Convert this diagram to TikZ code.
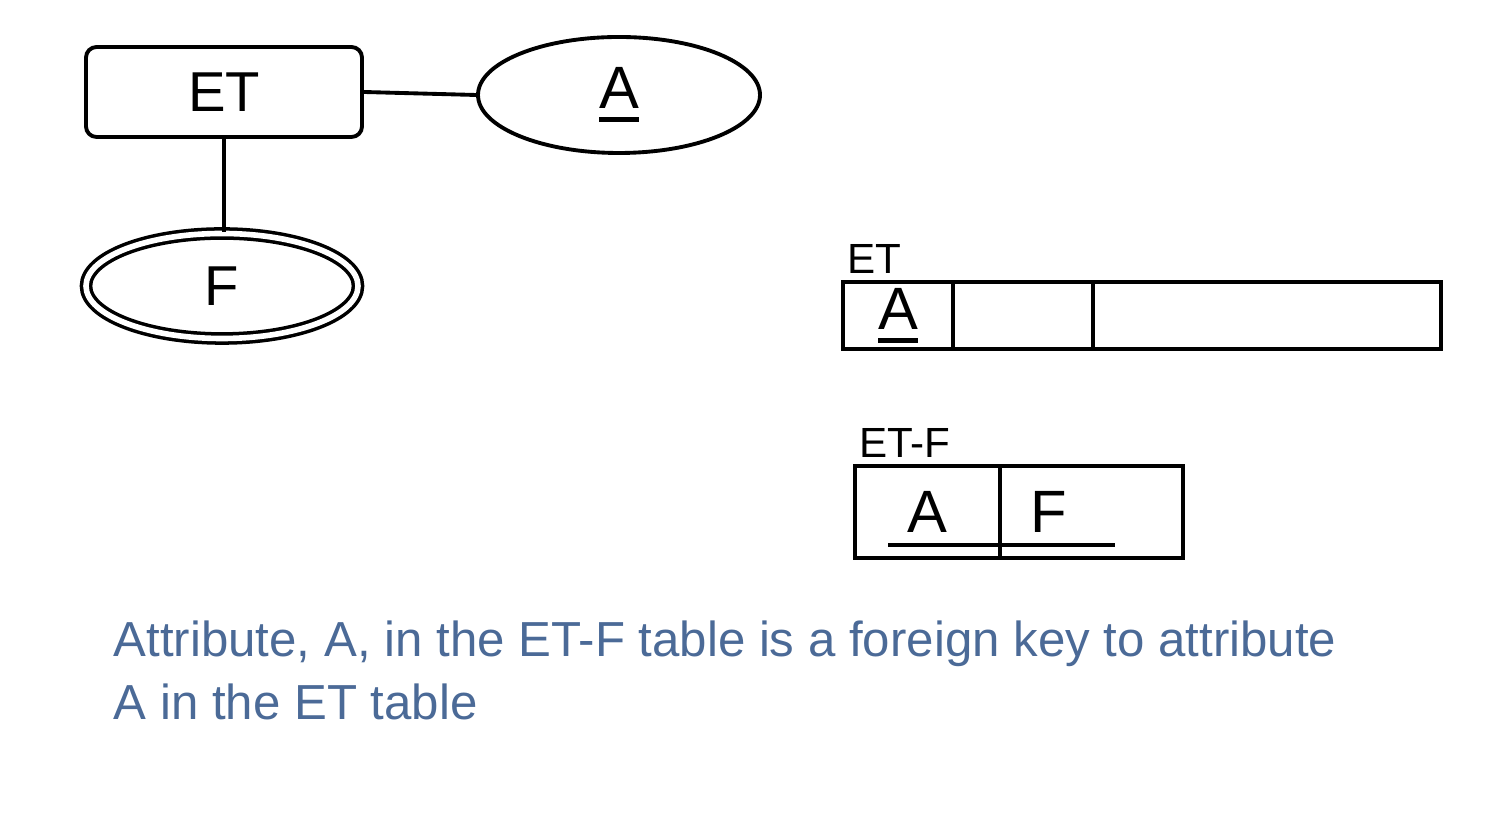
\documentclass[tikz,border=0pt]{standalone}
\usepackage{fontspec}
\setmainfont{Liberation Sans}
\usepackage{xcolor}
\usepackage{tikz}
\usetikzlibrary{shapes.geometric, positioning, calc}

\definecolor{noteblue}{HTML}{4B6A97}
% underlined key attribute
\newcommand{\keyul}[1]{\leavevmode\vtop{\hbox{#1}\kern2.5pt\hrule height 1.4pt}}

\begin{document}
\begin{tikzpicture}[
    entity/.style={rectangle, draw, line width=1.1pt, rounded corners=3pt, minimum width=2.76cm, minimum height=0.9cm, font=\fontsize{16}{18}\selectfont},
    attr/.style={ellipse, draw, line width=1.1pt, minimum width=2.82cm, minimum height=1.16cm, font=\fontsize{17}{19}\selectfont},
    multiattr/.style={ellipse, draw, double, double distance=1.6pt, line width=1pt, minimum width=2.72cm, minimum height=1.05cm, font=\fontsize{16}{18}\selectfont},
    cell/.style={rectangle, draw, line width=1.1pt, inner sep=0pt, outer sep=0pt, font=\fontsize{17}{19}\selectfont},
    tname/.style={anchor=south west, inner sep=1pt, font=\fontsize{12}{14}\selectfont},
    link/.style={line width=1.1pt}
]
\useasboundingbox (0,0) rectangle (15.12,-8.18);

% ER diagram
\node[entity] (et) at (2.24,-0.92) {ET};
\node[attr] (a) at (6.19,-0.95) {\keyul{A}};
\node[multiattr] (f) at (2.22,-2.86) {F};

\draw[link] (et.east) -- (a.west);
\draw[link] (et.south) -- (et.south |- f.north);

% Table ET
\node[cell, minimum width=1.10cm, minimum height=0.67cm] (etA) at (8.98,-3.155) {\keyul{A}};
\node[cell, minimum width=1.40cm, minimum height=0.67cm, right=0cm of etA] (etB) {};
\node[cell, minimum width=3.48cm, minimum height=0.67cm, right=0cm of etB] (etC) {};
\node[tname] (etname) at ($(etA.north west)+(0,0.04)$) {ET};

% Table ET-F
\node[cell, minimum width=1.45cm, minimum height=0.92cm] (etfA) at (9.275,-5.12) {A};
\node[cell, minimum width=1.83cm, minimum height=0.92cm, text width=1.83cm, align=left, right=0cm of etfA] (etfF) {\hspace*{0.3cm}F};
\node[tname] (etfname) at ($(etfA.north west)+(0,0.04)$) {ET-F};

% composite key underline
\coordinate (keyL) at (8.88,-5.45);
\coordinate (keyR) at (11.15,-5.45);
\draw[line width=1.4pt] (keyL) -- (keyR);

% Note
\node[anchor=base west, align=left, inner sep=0pt, text=noteblue, font=\fontsize{14}{18}\selectfont] (note) at (1.13,-7.20)
  {Attribute, A, in the ET-F table is a foreign key to attribute\\A in the ET table};

\end{tikzpicture}
\end{document}
